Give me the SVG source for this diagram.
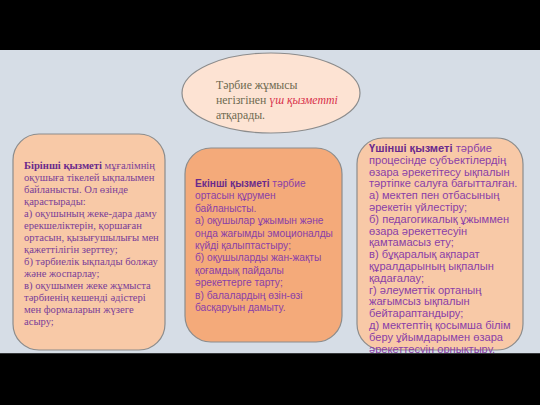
<svg xmlns="http://www.w3.org/2000/svg" width="540" height="405" viewBox="0 0 540 405">
<style>
.box{stroke:#8c8c8c;stroke-width:1.2}
.serif{font-family:"Liberation Serif","Times New Roman",serif;font-size:10.6px;fill:#7a3e98}
.sans{font-family:"Liberation Sans",Arial,sans-serif;font-size:10.2px;fill:#8a40a8}
.big{font-size:11.1px}
.b{font-weight:bold;fill:#6a2a8c}
.el{font-family:"Liberation Serif","Times New Roman",serif;font-size:11.8px;fill:#6e6a50}
.red{fill:#d8304a;font-style:italic}
</style>
<rect x="0" y="0" width="540" height="405" fill="#000"/>
<rect x="0" y="50" width="540" height="303.5" fill="#d6dde6"/>
<g id="connectors"></g>
<g id="top">
<ellipse cx="271" cy="93" rx="89" ry="40" fill="#fde3d3" class="box"/>
<text class="el" x="216" y="89">Тәрбие жұмысы</text>
<text class="el" x="216" y="104">негізгінен <tspan class="red">үш қызметті</tspan></text>
<text class="el" x="216" y="119">атқарады.</text>
</g>
<g id="first">
<rect x="13" y="134" width="152" height="216" rx="26" fill="#f8c9a7" class="box"/>
<text class="serif">
<tspan x="24" y="169"><tspan class="b">Бірінші қызметі</tspan> мұғалімнің</tspan>
<tspan x="24" y="181">оқушыға тікелей ықпалымен</tspan>
<tspan x="24" y="193">байланысты. Ол өзінде</tspan>
<tspan x="24" y="205">қарастырады:</tspan>
<tspan x="24" y="217">а) оқушының жеке-дара даму</tspan>
<tspan x="24" y="229">ерекшеліктерін, қоршаған</tspan>
<tspan x="24" y="241">ортасын, қызығушылығы мен</tspan>
<tspan x="24" y="253">қажеттілігін зерттеу;</tspan>
<tspan x="24" y="265">б) тәрбиелік ықпалды болжау</tspan>
<tspan x="24" y="277">және жоспарлау;</tspan>
<tspan x="24" y="289">в) оқушымен жеке жұмыста</tspan>
<tspan x="24" y="301">тәрбиенің кешенді әдістері</tspan>
<tspan x="24" y="313">мен формаларын жүзеге</tspan>
<tspan x="24" y="325">асыру;</tspan>
</text>
</g>
<g id="second">
<rect x="185" y="148" width="157" height="194" rx="26" fill="#f4aa7a" class="box"/>
<text class="sans">
<tspan x="195" y="187"><tspan class="b">Екінші қызметі</tspan> тәрбие</tspan>
<tspan x="195" y="199.4">ортасын құрумен</tspan>
<tspan x="195" y="211.8">байланысты.</tspan>
<tspan x="195" y="224.2">а) оқушылар ұжымын және</tspan>
<tspan x="195" y="236.6">онда жағымды эмоционалды</tspan>
<tspan x="195" y="249">күйді қалыптастыру;</tspan>
<tspan x="195" y="261.4">б) оқушыларды жан-жақты</tspan>
<tspan x="195" y="273.8">қоғамдық пайдалы</tspan>
<tspan x="195" y="286.2">әрекеттерге тарту;</tspan>
<tspan x="195" y="298.6">в) балалардың өзін-өзі</tspan>
<tspan x="195" y="311">басқаруын дамыту.</tspan>
</text>
</g>
<g id="third">
<rect x="357" y="138" width="166" height="212" rx="26" fill="#f8c9a7" class="box"/>
<text class="sans big">
<tspan x="369" y="152"><tspan class="b">Үшінші қызметі</tspan> тәрбие</tspan>
<tspan x="369" y="163.8">процесінде субъектілердің</tspan>
<tspan x="369" y="175.6">өзара әрекетітесу ықпалын</tspan>
<tspan x="369" y="187.4">тәртіпке салуға бағытталған.</tspan>
<tspan x="369" y="199.2">а) мектеп пен отбасының</tspan>
<tspan x="369" y="211">әрекетін үйлестіру;</tspan>
<tspan x="369" y="222.8">б) педагогикалық ұжыммен</tspan>
<tspan x="369" y="234.6">өзара әрекеттесуін</tspan>
<tspan x="369" y="246.4">қамтамасыз ету;</tspan>
<tspan x="369" y="258.2">в) бұқаралық ақпарат</tspan>
<tspan x="369" y="270">құралдарының ықпалын</tspan>
<tspan x="369" y="281.8">қадағалау;</tspan>
<tspan x="369" y="293.6">г) әлеуметтік ортаның</tspan>
<tspan x="369" y="305.4">жағымсыз ықпалын</tspan>
<tspan x="369" y="317.2">бейтараптандыру;</tspan>
<tspan x="369" y="329">д) мектептің қосымша білім</tspan>
<tspan x="369" y="340.8">беру ұйымдарымен өзара</tspan>
<tspan x="369" y="352.6">әрекеттесуін орнықтыру.</tspan>
</text>
</g>
<rect x="0" y="353.5" width="540" height="51.5" fill="#000"/>
</svg>
